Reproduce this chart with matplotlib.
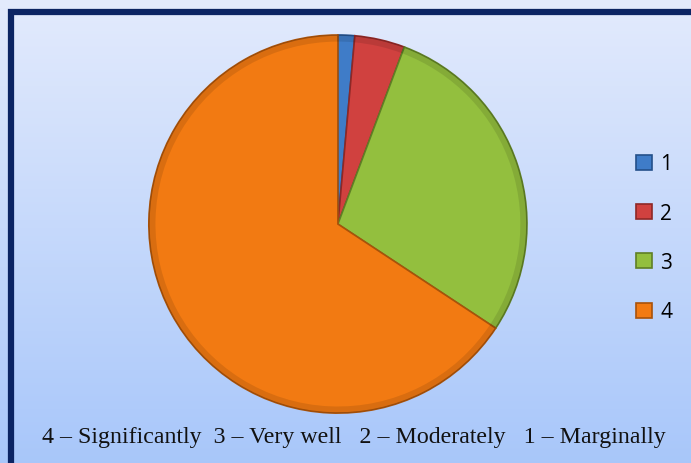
import matplotlib.pyplot as plt
import numpy as np
from matplotlib.patches import Rectangle, Wedge

# values (start at 12 o'clock, clockwise)
labels = ['1', '2', '3', '4']
counts = [1, 3, 20, 46]
colors = ['#3f7cc8', '#d0413f', '#93bf3e', '#f27a12']
edges = ['#24508a', '#8e2826', '#5f7f25', '#a8520a']
caption = '4 \u2013 Significantly  3 \u2013 Very well   2 \u2013 Moderately   1 \u2013 Marginally'

fig = plt.figure(figsize=(6.91, 4.64), dpi=100)

# gradient background
bg = fig.add_axes([0, 0, 1, 1])
grad = np.linspace(0, 1, 256).reshape(-1, 1)
top = np.array([0.89, 0.92, 0.99])
bot = np.array([0.66, 0.78, 0.98])
img = top + (bot - top) * grad[:, :, None]
bg.imshow(img, aspect='auto', extent=[0, 1, 0, 1])
bg.set_xlim(0, 1)
bg.set_ylim(0, 1)
bg.axis('off')
# dark frame
fig.patches.append(Rectangle((11 / 691, -0.05), 1.05, 1 - 13 / 464 + 0.05,
                             transform=fig.transFigure, fill=False,
                             edgecolor='#0b2463', linewidth=4.5, zorder=5))

ax = fig.add_axes([0.214, 0.1055, 0.55, 0.819])
wedges, _ = ax.pie(counts, colors=colors, startangle=90, counterclock=False,
                   radius=1.0, wedgeprops=dict(linewidth=1.2))
for w, ec in zip(wedges, edges):
    w.set_edgecolor(ec)
# soft bevel along the rim
for w in wedges:
    ax.add_patch(Wedge((0, 0), 1.0, w.theta1, w.theta2, width=0.035,
                       facecolor='black', alpha=0.1, linewidth=0))
ax.set_xlim(-1.005, 1.005)
ax.set_ylim(-1.005, 1.005)
ax.set_aspect('equal')
ax.axis('off')

fig.legend(wedges, labels, loc='center', bbox_to_anchor=(0.947, 0.485),
           frameon=False, handlelength=0.75, handleheight=0.75,
           handletextpad=0.4, labelspacing=1.36,
           prop={'family': 'Open Sans', 'size': 15})

fig.text(0.512, 0.058, caption, ha='center', va='center',
         family='Liberation Serif', fontsize=17.2, color='#111111')

fig.savefig('out.png', dpi=100)
